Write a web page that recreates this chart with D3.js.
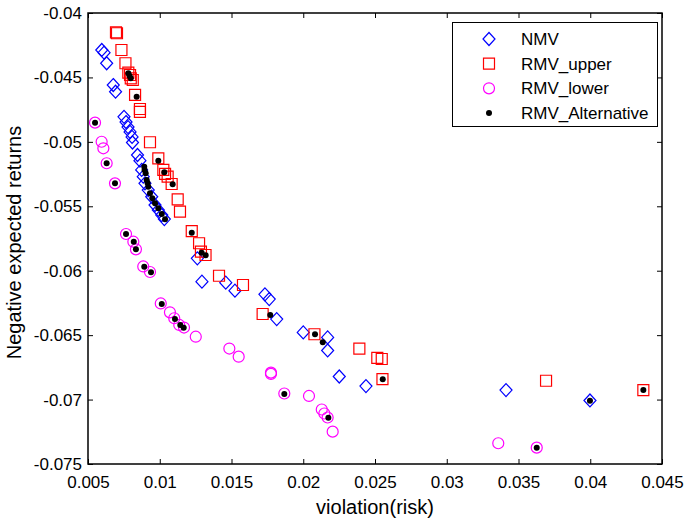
<!DOCTYPE html>
<html>
<head>
<meta charset="utf-8">
<script src="https://cdn.jsdelivr.net/npm/d3@7"></script>
<style>
  body { margin: 0; background: #fff; }
  svg { font-family: "Liberation Sans", Arial, sans-serif; }
</style>
</head>
<body>
<svg id="chart" width="684" height="523"></svg>
<script>
// Series values: [violation(risk), negative expected return]
const nmv = [
  [0.00596, -0.04287], [0.00612, -0.04308], [0.00630, -0.04390], [0.00676, -0.04559],
  [0.00692, -0.04611], [0.00751, -0.04806], [0.00765, -0.04846], [0.00779, -0.04885],
  [0.00793, -0.04923], [0.00807, -0.04962], [0.00810, -0.05005], [0.00845, -0.05102],
  [0.00862, -0.05146], [0.00874, -0.05218], [0.00885, -0.05270], [0.00897, -0.05322],
  [0.00920, -0.05374], [0.00944, -0.05426], [0.00967, -0.05490], [0.00990, -0.05529],
  [0.01014, -0.05568], [0.01032, -0.05599], [0.01262, -0.05904], [0.01294, -0.06085],
  [0.01460, -0.06093], [0.01524, -0.06155], [0.01733, -0.06183], [0.01763, -0.06220],
  [0.01815, -0.06375], [0.02000, -0.06479], [0.02170, -0.06518], [0.02170, -0.06619],
  [0.02251, -0.06821], [0.02437, -0.06895], [0.03413, -0.06926], [0.03998, -0.07007]
];

const rmvUpper = [
  [0.00695, -0.04151], [0.00702, -0.04157], [0.00733, -0.04287], [0.00761, -0.04390],
  [0.00781, -0.04463], [0.00793, -0.04481], [0.00798, -0.04507], [0.00812, -0.04520],
  [0.00828, -0.04636], [0.00862, -0.04745], [0.00862, -0.04768], [0.00932, -0.05003],
  [0.00990, -0.05128], [0.01025, -0.05218], [0.01037, -0.05249], [0.01055, -0.05270],
  [0.01083, -0.05327], [0.01125, -0.05446], [0.01141, -0.05542], [0.01223, -0.05692],
  [0.01274, -0.05787], [0.01287, -0.05852], [0.01319, -0.05878], [0.01413, -0.06039],
  [0.01580, -0.06111], [0.01717, -0.06336], [0.02078, -0.06493], [0.02391, -0.06605],
  [0.02516, -0.06677], [0.02547, -0.06685], [0.02552, -0.06842], [0.03692, -0.06854],
  [0.04370, -0.06926]
];

const rmvLower = [
  [0.00549, -0.04851], [0.00595, -0.04999], [0.00607, -0.05050], [0.00630, -0.05166],
  [0.00688, -0.05322], [0.00765, -0.05715], [0.00816, -0.05775], [0.00834, -0.05834],
  [0.00885, -0.05967], [0.00932, -0.06010], [0.01007, -0.06254], [0.01071, -0.06323],
  [0.01101, -0.06369], [0.01136, -0.06421], [0.01169, -0.06441], [0.01251, -0.06512],
  [0.01485, -0.06604], [0.01550, -0.06667], [0.01775, -0.06791], [0.01775, -0.06801],
  [0.01868, -0.06953], [0.02040, -0.06972], [0.02129, -0.07077], [0.02147, -0.07108],
  [0.02170, -0.07139], [0.02205, -0.07249], [0.03359, -0.07339], [0.03627, -0.07373]
];

const rmvAlternative = [
  [0.00549, -0.04851], [0.00630, -0.05166], [0.00688, -0.05322], [0.00765, -0.05715],
  [0.00819, -0.05775], [0.00834, -0.05834], [0.00892, -0.05969], [0.00939, -0.06012],
  [0.01014, -0.06258], [0.01106, -0.06375], [0.01143, -0.06421], [0.01167, -0.06442],
  [0.01868, -0.06957], [0.02175, -0.07141], [0.03627, -0.07373],
  [0.00781, -0.04468], [0.00790, -0.04489], [0.00798, -0.04507], [0.00839, -0.04650],
  [0.00990, -0.05146], [0.01032, -0.05236], [0.01090, -0.05329], [0.01223, -0.05705],
  [0.01292, -0.05860], [0.01320, -0.05880], [0.01770, -0.06344], [0.02082, -0.06493],
  [0.02136, -0.06556], [0.02554, -0.06843], [0.03998, -0.07009], [0.04370, -0.06926],
  [0.00892, -0.05193], [0.00894, -0.05218], [0.00902, -0.05244], [0.00909, -0.05296],
  [0.00915, -0.05319], [0.00920, -0.05348], [0.00932, -0.05399], [0.00948, -0.05438],
  [0.00967, -0.05477], [0.00990, -0.05516], [0.01014, -0.05560], [0.01037, -0.05601]
];

const xTicks = [0.005, 0.01, 0.015, 0.02, 0.025, 0.03, 0.035, 0.04, 0.045];
const yTicks = [-0.04, -0.045, -0.05, -0.055, -0.06, -0.065, -0.07, -0.075];
const legendLabels = ['NMV', 'RMV_upper', 'RMV_lower', 'RMV_Alternative'];

// Plot frame
const margin = { left: 88, top: 13, right: 22, bottom: 59 };
const width = 684 - margin.left - margin.right;
const height = 523 - margin.top - margin.bottom;

const svg = d3.select('#chart');
const g = svg.append('g').attr('transform', `translate(${margin.left},${margin.top})`);

const x = d3.scaleLinear().domain([0.005, 0.045]).range([0, width]);
const y = d3.scaleLinear().domain([-0.075, -0.04]).range([height, 0]);

const fmt = d => String(+d.toFixed(3));

// Axes with inward ticks on all four sides
function styleAxis(sel) {
  sel.select('.domain').remove();
  sel.selectAll('.tick line').attr('stroke', '#000').attr('stroke-width', 1);
  sel.selectAll('.tick text').attr('fill', '#000').style('font-size', '17px');
}

g.append('g')
  .attr('transform', `translate(0,${height})`)
  .call(d3.axisBottom(x).tickValues(xTicks).tickFormat(fmt).tickSize(-5).tickPadding(12))
  .call(styleAxis);

g.append('g')
  .call(d3.axisLeft(y).tickValues(yTicks).tickFormat(fmt).tickSize(-5).tickPadding(6))
  .call(styleAxis);

g.append('g')
  .call(d3.axisTop(x).tickValues(xTicks).tickFormat('').tickSize(-5))
  .call(styleAxis);

g.append('g')
  .attr('transform', `translate(${width},0)`)
  .call(d3.axisRight(y).tickValues(yTicks).tickFormat('').tickSize(-5))
  .call(styleAxis);

g.append('rect')
  .attr('width', width)
  .attr('height', height)
  .attr('fill', 'none')
  .attr('stroke', '#000')
  .attr('stroke-width', 1.5);

// Axis titles
svg.append('text')
  .attr('x', margin.left + width / 2)
  .attr('y', 514)
  .attr('text-anchor', 'middle')
  .style('font-size', '20px')
  .text('violation(risk)');

svg.append('text')
  .attr('transform', `translate(21,${margin.top + height / 2 + 4}) rotate(-90)`)
  .attr('text-anchor', 'middle')
  .style('font-size', '20px')
  .text('Negative expected returns');

// Marker shapes
const diamond = 'M0,-6.5L6,0L0,6.5L-6,0Z';
const square = 'M-5.5,-5.5H5.5V5.5H-5.5Z';

function drawPath(data, d, color) {
  g.append('g').selectAll('path')
    .data(data)
    .join('path')
    .attr('d', d)
    .attr('transform', p => `translate(${x(p[0])},${y(p[1])})`)
    .attr('fill', 'none')
    .attr('stroke', color)
    .attr('stroke-width', 1.2);
}

drawPath(nmv, diamond, '#0000ff');
drawPath(rmvUpper, square, '#ff0000');

g.append('g').selectAll('circle')
  .data(rmvLower)
  .join('circle')
  .attr('cx', p => x(p[0]))
  .attr('cy', p => y(p[1]))
  .attr('r', 5.5)
  .attr('fill', 'none')
  .attr('stroke', '#ff00ff')
  .attr('stroke-width', 1.2);

g.append('g').selectAll('circle')
  .data(rmvAlternative)
  .join('circle')
  .attr('cx', p => x(p[0]))
  .attr('cy', p => y(p[1]))
  .attr('r', 3)
  .attr('fill', '#000');

// Legend
const legend = svg.append('g');
legend.append('rect')
  .attr('x', 452.5).attr('y', 22.5)
  .attr('width', 205).attr('height', 104)
  .attr('fill', '#fff')
  .attr('stroke', '#000')
  .attr('stroke-width', 1);

const rowY = d3.scalePoint().domain(legendLabels).range([39, 113]);

legendLabels.forEach((label, i) => {
  const cy = rowY(label);
  const item = legend.append('g').attr('transform', `translate(489,${cy})`);
  if (i === 0) item.append('path').attr('d', diamond).attr('fill', 'none').attr('stroke', '#0000ff').attr('stroke-width', 1.2);
  if (i === 1) item.append('path').attr('d', square).attr('fill', 'none').attr('stroke', '#ff0000').attr('stroke-width', 1.2);
  if (i === 2) item.append('circle').attr('r', 5.5).attr('fill', 'none').attr('stroke', '#ff00ff').attr('stroke-width', 1.2);
  if (i === 3) item.append('circle').attr('r', 3).attr('fill', '#000');
  legend.append('text')
    .attr('x', 521)
    .attr('y', cy + 6)
    .style('font-size', '17px')
    .text(label);
});
</script>
</body>
</html>
